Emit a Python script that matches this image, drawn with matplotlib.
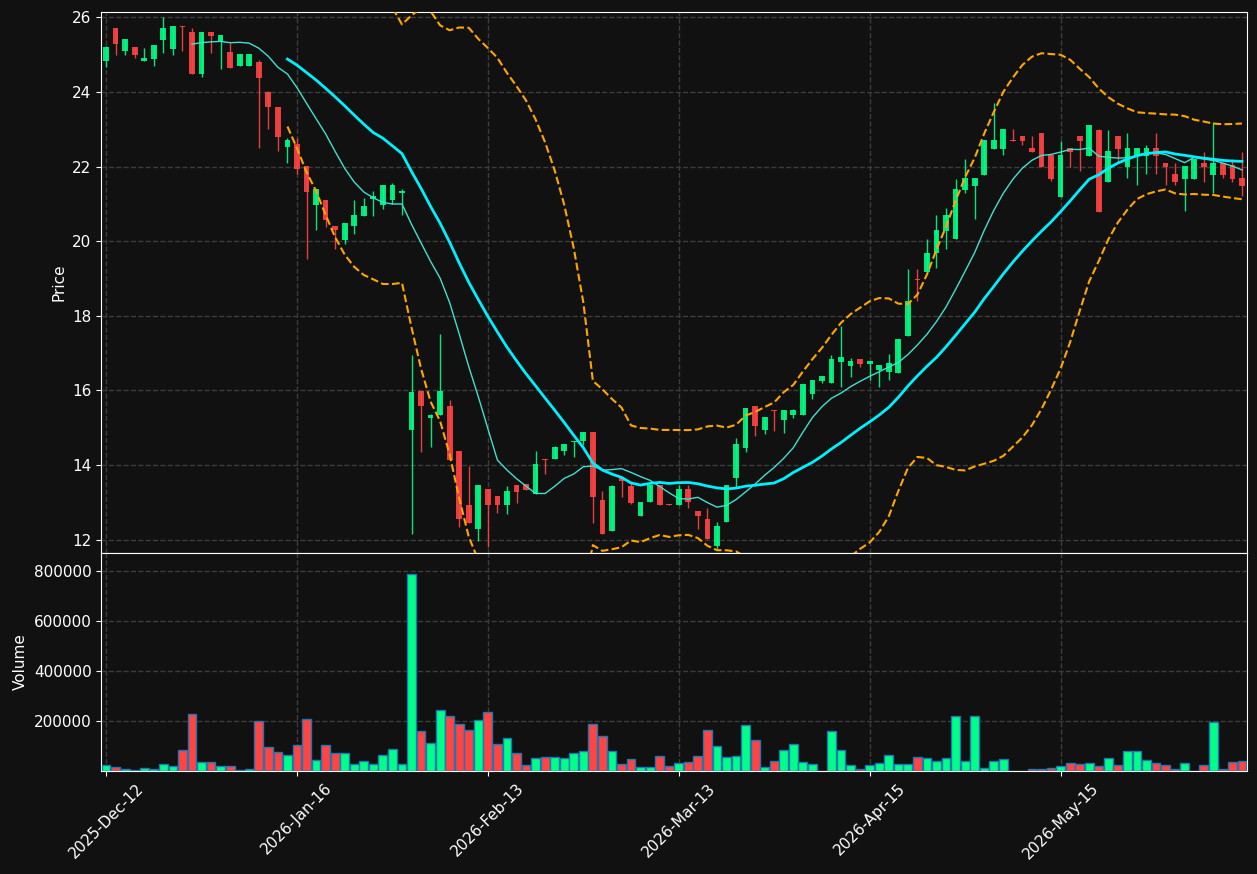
import numpy as np
import pandas as pd
import matplotlib
matplotlib.use("Agg")
import matplotlib.pyplot as plt

opens = [24.84, 25.71, 25.10, 25.20, 24.84, 24.89, 25.40, 25.16, 25.77, 25.61,
         24.49, 25.61, 25.35, 25.07, 24.70, 24.69, 24.80, 24.00, 23.60, 22.53,
         22.60, 22.01, 20.98, 21.10, 20.40, 20.04, 20.41, 20.68, 21.13, 20.98,
         21.10, 21.30, 14.94, 15.98, 15.27, 15.34, 15.58, 14.37, 12.93, 12.28,
         13.35, 13.17, 12.93, 13.46, 13.49, 13.23, 14.15, 14.17, 14.38, 14.61,
         14.65, 14.87, 13.06, 12.24, 13.69, 13.43, 12.64, 13.01, 13.45, 12.95,
         12.93, 13.35, 12.77, 12.55, 11.83, 12.48, 13.66, 14.46, 15.58, 14.95,
         15.46, 15.21, 15.35, 15.34, 15.90, 16.26, 16.21, 16.77, 16.66, 16.84,
         16.71, 16.54, 16.50, 16.47, 17.47, 18.98, 19.18, 19.67, 20.28, 20.07,
         21.37, 21.48, 21.78, 22.48, 22.48, 22.71, 22.82, 22.50, 22.89, 22.31,
         21.19, 22.49, 22.82, 22.29, 22.99, 21.59, 22.82, 22.00, 22.31, 22.29,
         22.49, 22.09, 21.80, 21.67, 21.67, 22.09, 21.78, 22.09, 22.04, 21.68]
highs = [25.22, 25.72, 25.42, 25.20, 25.17, 25.26, 26.00, 25.77, 25.78, 25.70,
         25.61, 25.61, 25.53, 25.30, 25.02, 25.02, 24.85, 24.02, 23.60, 22.76,
         22.76, 22.01, 21.40, 21.10, 20.40, 20.49, 21.10, 21.15, 21.34, 21.50,
         21.55, 21.40, 16.96, 15.98, 15.37, 17.50, 15.74, 14.37, 13.97, 13.46,
         13.35, 13.17, 13.43, 13.46, 13.49, 14.37, 14.15, 14.51, 14.56, 14.64,
         14.87, 14.87, 13.30, 13.46, 13.69, 13.51, 13.01, 13.46, 13.45, 12.96,
         13.46, 13.46, 12.77, 12.85, 12.46, 13.46, 14.71, 15.52, 15.58, 15.28,
         15.47, 15.46, 15.51, 16.17, 16.28, 16.38, 16.96, 17.72, 16.88, 16.84,
         16.79, 16.68, 16.97, 17.38, 19.25, 19.25, 20.07, 20.70, 20.88, 21.67,
         22.19, 21.68, 22.71, 23.69, 23.01, 23.00, 22.82, 22.82, 22.89, 22.31,
         22.69, 22.49, 22.82, 23.11, 23.00, 22.99, 22.82, 22.89, 22.49, 22.59,
         22.89, 22.09, 22.09, 22.01, 22.19, 22.40, 23.20, 22.09, 22.19, 22.40]
lows = [24.66, 25.00, 25.00, 24.90, 24.84, 24.70, 25.05, 25.00, 25.11, 24.49,
        24.39, 25.05, 24.61, 24.65, 24.70, 24.69, 22.49, 23.00, 22.42, 22.09,
        21.80, 19.51, 20.30, 20.39, 19.78, 19.91, 20.18, 20.68, 20.68, 20.87,
        21.00, 20.70, 12.14, 14.36, 14.47, 15.34, 14.13, 12.34, 12.44, 11.97,
        11.79, 12.70, 12.68, 12.99, 13.33, 13.23, 13.75, 14.17, 14.26, 14.20,
        14.53, 12.45, 12.16, 12.24, 13.13, 12.94, 12.64, 13.01, 12.93, 12.92,
        12.93, 12.84, 12.27, 12.01, 11.72, 12.48, 13.42, 14.36, 14.78, 14.82,
        14.92, 14.85, 15.25, 15.34, 15.77, 16.20, 16.21, 16.10, 16.37, 16.62,
        16.28, 16.10, 16.28, 16.47, 17.47, 18.39, 19.18, 19.27, 19.78, 20.07,
        21.28, 20.58, 21.78, 22.48, 22.30, 22.69, 22.59, 22.40, 22.00, 21.60,
        21.19, 22.00, 21.89, 22.29, 20.79, 21.59, 22.13, 21.68, 21.50, 21.80,
        21.80, 21.50, 21.50, 20.81, 21.67, 21.59, 21.28, 21.68, 21.59, 21.22]
closes = [25.20, 25.29, 25.42, 25.00, 24.91, 25.26, 25.71, 25.77, 25.75, 24.49,
          25.61, 25.51, 25.53, 24.65, 25.02, 25.02, 24.37, 23.59, 22.80, 22.71,
          21.94, 21.33, 21.40, 20.57, 20.30, 20.49, 20.70, 20.94, 21.21, 21.50,
          21.50, 21.35, 15.95, 15.58, 15.34, 15.98, 14.13, 12.55, 12.44, 13.46,
          12.93, 12.93, 13.30, 13.27, 13.33, 14.02, 14.12, 14.48, 14.56, 14.64,
          14.87, 13.15, 12.16, 13.43, 13.58, 12.99, 13.01, 13.46, 12.93, 12.93,
          13.35, 13.01, 12.64, 12.01, 12.36, 13.46, 14.56, 15.52, 15.05, 15.28,
          15.45, 15.46, 15.47, 16.17, 16.28, 16.38, 16.83, 16.89, 16.78, 16.71,
          16.79, 16.68, 16.74, 17.38, 18.40, 18.96, 19.69, 20.30, 20.70, 21.40,
          21.68, 21.68, 22.71, 22.71, 23.01, 22.69, 22.69, 22.40, 22.00, 21.67,
          22.31, 22.40, 22.69, 23.11, 20.79, 22.42, 22.47, 22.49, 22.49, 22.49,
          22.29, 22.00, 21.59, 22.01, 22.19, 22.00, 22.09, 21.78, 21.67, 21.48]
volumes = [23000, 15000, 7000, 5000, 11000, 7000, 27000, 19000, 83000, 229000,
           37000, 35000, 19000, 19000, 3000, 7000, 199000, 95000, 75000, 63000,
           103000, 207000, 43000, 103000, 71000, 71000, 27000, 39000, 27000, 63000,
           87000, 27000, 787000, 159000, 111000, 243000, 219000, 187000, 163000, 203000,
           235000, 107000, 131000, 71000, 23000, 51000, 55000, 55000, 51000, 71000,
           79000, 187000, 139000, 79000, 27000, 47000, 15000, 15000, 59000, 19000,
           31000, 35000, 59000, 163000, 99000, 55000, 59000, 183000, 123000, 15000,
           39000, 83000, 107000, 35000, 27000, 2000, 159000, 83000, 23000, 7000,
           23000, 31000, 63000, 27000, 27000, 55000, 51000, 39000, 51000, 219000,
           39000, 219000, 11000, 39000, 47000, 2000, 2000, 7000, 7000, 11000,
           19000, 31000, 27000, 31000, 19000, 51000, 23000, 79000, 79000, 43000,
           31000, 23000, 7000, 31000, 2000, 23000, 195000, 7000, 35000, 39000]
tick_idx = [0, 20, 40, 60, 80, 100]
tick_labels = ["2025-Dec-12", "2026-Jan-16", "2026-Feb-13", "2026-Mar-13",
               "2026-Apr-15", "2026-May-15"]

BG = "#111111"
GREEN = "#00ff88"
RED = "#ff4444"
GRID = "#3c3c3c"

df = pd.DataFrame({"o": opens, "h": highs, "l": lows, "c": closes, "v": volumes})
x = np.arange(len(df))
up = df["c"] >= df["o"]
colors = np.where(up, GREEN, RED)

ma10 = df["c"].rolling(10).mean()
ma20 = df["c"].rolling(20).mean()
sd20 = df["c"].rolling(20).std()
bb_up = ma20 + 2 * sd20
bb_lo = ma20 - 2 * sd20

fig = plt.figure(figsize=(12.57, 8.74), dpi=100, facecolor=BG)
ax = fig.add_axes([0.0806, 0.3673, 0.9112, 0.6193], facecolor=BG)
axv = fig.add_axes([0.0806, 0.1178, 0.9112, 0.2495], facecolor=BG, sharex=ax)

# candles
ax.vlines(x, df["l"], df["h"], colors=colors, linewidth=1, alpha=0.9, zorder=2)
body_bottom = np.minimum(df["o"], df["c"])
body_h = np.maximum(np.abs(df["c"] - df["o"]), 0.02)
ax.bar(x, body_h, bottom=body_bottom, width=0.6, color=colors, alpha=0.9,
       linewidth=0, zorder=3)

ax.plot(x, ma10, color="#40e0d0", linewidth=1, zorder=4)
ax.plot(x, ma20, color="#00f0ff", linewidth=2, zorder=4)
ax.plot(x, bb_up, color="#ffa500", linewidth=1.5, linestyle="--", zorder=4)
ax.plot(x, bb_lo, color="#ffa500", linewidth=1.5, linestyle="--", zorder=4)

ax.set_ylim(11.64, 26.15)
ax.set_xlim(-0.5, 119.5)
ax.set_ylabel("Price", color="white")

axv.bar(x, df["v"], width=0.92, color=colors, edgecolor="#1f77b4", linewidth=1,
        zorder=3)
axv.set_ylim(0, 872000)
axv.set_yticks([200000, 400000, 600000, 800000])
axv.set_ylabel("Volume", color="white")

axv.set_xticks(tick_idx)
axv.set_xticklabels(tick_labels, rotation=45)
plt.setp(ax.get_xticklabels(), visible=False)

for a in (ax, axv):
    a.grid(True, color=GRID, linestyle="--", linewidth=1)
    a.set_axisbelow(True)
    a.tick_params(colors="white", labelsize=11)
    for s in a.spines.values():
        s.set_color("white")
    a.yaxis.label.set_size(11)

fig.savefig("out.png", dpi=100, facecolor=BG)
